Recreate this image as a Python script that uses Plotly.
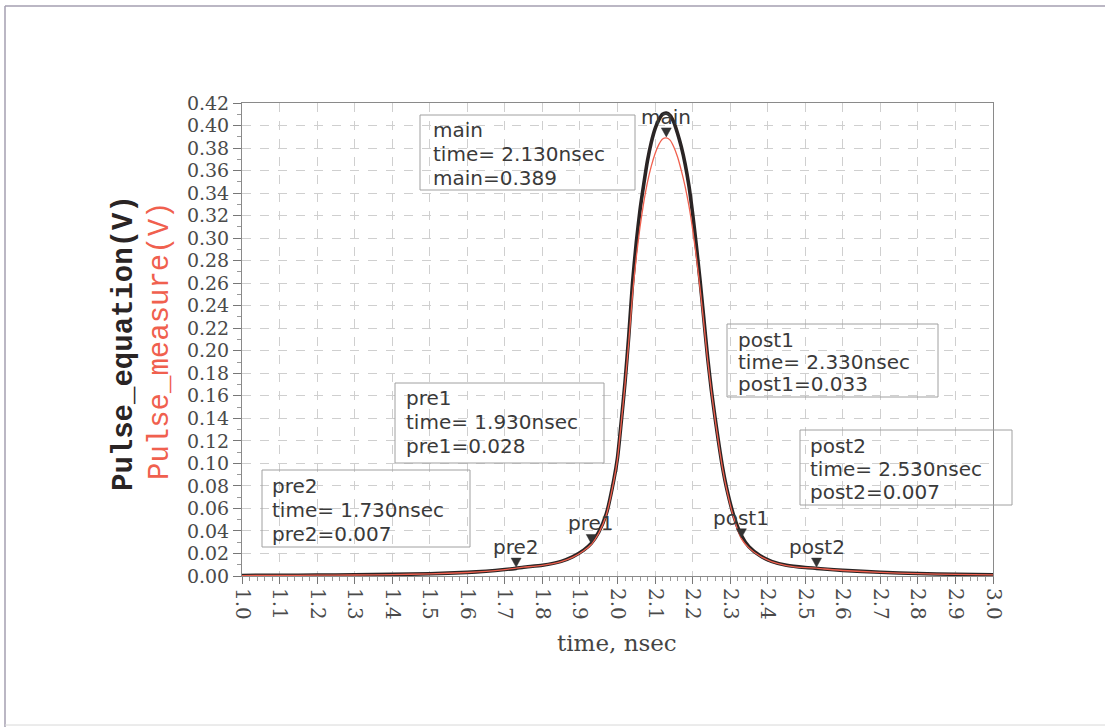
import plotly.graph_objects as go

# ---------------- data ----------------
time_ns = [1.00, 1.10, 1.20, 1.30, 1.40, 1.50, 1.60, 1.65, 1.70, 1.73, 1.75, 1.80, 1.85, 1.88,
           1.91, 1.93, 1.95, 1.97, 1.99, 2.00, 2.01, 2.02, 2.03, 2.04, 2.05, 2.06, 2.07, 2.08,
           2.09, 2.10, 2.11, 2.12, 2.13, 2.14, 2.15, 2.16, 2.17, 2.18, 2.19, 2.20, 2.21, 2.22,
           2.23, 2.24, 2.25, 2.26, 2.27, 2.28, 2.29, 2.31, 2.33, 2.35, 2.38, 2.41, 2.45, 2.50,
           2.53, 2.55, 2.60, 2.70, 2.80, 2.90, 3.00]

pulse_equation = [0.0005, 0.0006, 0.0008, 0.0010, 0.0014, 0.0020, 0.0032, 0.0042, 0.0057, 0.0068,
                  0.0078, 0.0095, 0.0130, 0.0170, 0.0230, 0.0290, 0.0390, 0.0550, 0.0850, 0.1050,
                  0.1370, 0.1720, 0.2130, 0.2600, 0.2960, 0.3250, 0.3480, 0.3690, 0.3850, 0.3970,
                  0.4050, 0.4100, 0.4110, 0.4090, 0.4030, 0.3930, 0.3810, 0.3660, 0.3470, 0.3220,
                  0.2930, 0.2620, 0.2280, 0.1940, 0.1650, 0.1400, 0.1170, 0.0960, 0.0790, 0.0530,
                  0.0360, 0.0260, 0.0180, 0.0130, 0.0095, 0.0075, 0.0068, 0.0062, 0.0050, 0.0033,
                  0.0022, 0.0015, 0.0011]

pulse_measure = [0.0004, 0.0005, 0.0007, 0.0009, 0.0013, 0.0019, 0.0031, 0.0041, 0.0057, 0.0070,
                 0.0078, 0.0095, 0.0128, 0.0165, 0.0225, 0.0280, 0.0380, 0.0540, 0.0840, 0.1040,
                 0.1360, 0.1700, 0.2080, 0.2500, 0.2830, 0.3100, 0.3320, 0.3500, 0.3640, 0.3750,
                 0.3830, 0.3880, 0.3890, 0.3870, 0.3810, 0.3720, 0.3600, 0.3460, 0.3290, 0.3080,
                 0.2830, 0.2550, 0.2240, 0.1920, 0.1640, 0.1390, 0.1160, 0.0950, 0.0780, 0.0510,
                 0.0330, 0.0250, 0.0175, 0.0128, 0.0093, 0.0074, 0.0070, 0.0062, 0.0049, 0.0032,
                 0.0021, 0.0014, 0.0010]

marker_names = ["pre2", "pre1", "main", "post1", "post2"]
marker_times = [1.73, 1.93, 2.13, 2.33, 2.53]
marker_values = [0.007, 0.028, 0.389, 0.033, 0.007]

x_ticks = [1.0, 1.1, 1.2, 1.3, 1.4, 1.5, 1.6, 1.7, 1.8, 1.9, 2.0,
           2.1, 2.2, 2.3, 2.4, 2.5, 2.6, 2.7, 2.8, 2.9, 3.0]
y_ticks = [i * 0.02 for i in range(22)]

# ---------------- layout helpers ----------------
W, H = 1105, 727
L, R, T, B = 242, 993, 103, 576
PW, PH = R - L, B - T


def px(xp):
    return (xp - L) / PW


def py(yp):
    return (B - yp) / PH


TEXT_COLOR = "#3a3a3a"
BOX_COLOR = "#a0a0a0"
RED = "#f0604e"
BLACK = "#2a2424"

fig = go.Figure()

fig.add_trace(go.Scatter(
    x=time_ns, y=pulse_equation, mode="lines", name="Pulse_equation",
    line=dict(color=BLACK, width=3.6, shape="spline", smoothing=0.6),
    showlegend=False, hoverinfo="skip"))

fig.add_trace(go.Scatter(
    x=time_ns, y=pulse_measure, mode="lines", name="Pulse_measure",
    line=dict(color=RED, width=1.3, shape="spline", smoothing=0.6),
    showlegend=False, hoverinfo="skip"))

annotations = []
shapes = []

# marker triangles (pixel-sized shapes anchored at the marker data point) and labels
for name, t, v in zip(marker_names, marker_times, marker_values):
    shapes.append(dict(type="path", xref="x", yref="y", xsizemode="pixel", ysizemode="pixel",
                       xanchor=t, yanchor=v, path="M-5,10 L5,10 L0,1 Z",
                       fillcolor="#333333", line=dict(color="#333333", width=0.5)))
    annotations.append(dict(x=t, y=v, xref="x", yref="y", text=name, showarrow=False,
                            font=dict(family="DejaVu Sans", size=20, color=TEXT_COLOR),
                            xanchor="center", yanchor="middle", yshift=21))

# readout boxes
box_specs = [
    # (x0, y0, x1, y1, text_left, line_ys)
    (420, 115, 635, 190, 431, [130, 154, 178]),
    (395, 383, 604, 463, 404, [398, 422, 446]),
    (262, 470, 470, 547, 270, [486, 510, 534]),
    (727, 324, 938, 397, 736, [340, 362, 384]),
    (800, 430, 1012, 505, 808, [446, 469, 492]),
]
box_order = ["main", "pre1", "pre2", "post1", "post2"]
for spec, name in zip(box_specs, box_order):
    x0, y0, x1, y1, tl, lys = spec
    i = marker_names.index(name)
    lines = [name, f"time= {marker_times[i]:.3f}nsec", f"{name}={marker_values[i]:.3f}"]
    shapes.append(dict(type="rect", xref="paper", yref="paper",
                       x0=px(x0), x1=px(x1), y0=py(y1), y1=py(y0),
                       line=dict(color=BOX_COLOR, width=1), fillcolor="rgba(0,0,0,0)"))
    for txt, ly in zip(lines, lys):
        annotations.append(dict(x=px(tl), y=py(ly), xref="paper", yref="paper", text=txt,
                                showarrow=False, xanchor="left", yanchor="middle",
                                font=dict(family="DejaVu Sans", size=20, color=TEXT_COLOR)))

# axis titles
annotations.append(dict(x=px(124), y=py(343), xref="paper", yref="paper",
                        text="<b>Pulse_equation(V)</b>", showarrow=False, textangle=-90,
                        xanchor="center", yanchor="middle",
                        font=dict(family="Liberation Mono", size=29, color=BLACK)))
annotations.append(dict(x=px(160), y=py(341), xref="paper", yref="paper",
                        text="Pulse_measure(V)", showarrow=False, textangle=-90,
                        xanchor="center", yanchor="middle",
                        font=dict(family="Liberation Mono", size=29, color=RED)))
annotations.append(dict(x=px(617), y=py(643), xref="paper", yref="paper",
                        text="time, nsec", showarrow=False,
                        xanchor="center", yanchor="middle",
                        font=dict(family="DejaVu Serif", size=23, color="#444444")))

# outer page border
border_col = "#a59fb0"
shapes.append(dict(type="line", xref="paper", yref="paper", x0=px(5), x1=px(5),
                   y0=py(6), y1=py(727), line=dict(color=border_col, width=1.5)))
shapes.append(dict(type="line", xref="paper", yref="paper", x0=px(5), x1=px(1105),
                   y0=py(6), y1=py(6), line=dict(color=border_col, width=1.5)))
shapes.append(dict(type="line", xref="paper", yref="paper", x0=px(5), x1=px(1105),
                   y0=py(725), y1=py(725), line=dict(color="#d8d8d8", width=1)))

fig.update_layout(
    width=W, height=H,
    margin=dict(l=L, r=W - R, t=T, b=H - B, pad=0),
    paper_bgcolor="white", plot_bgcolor="white",
    annotations=annotations, shapes=shapes,
    showlegend=False,
)

fig.update_xaxes(
    range=[1.0, 3.0], tickvals=x_ticks, ticktext=[f"{v:.1f}" for v in x_ticks],
    tickangle=90, ticks="outside", ticklen=7, tickcolor="#777777",
    tickfont=dict(family="DejaVu Serif", size=20, color="#4a4a4a"),
    showgrid=True, gridcolor="#cfcfcf", griddash="dash", gridwidth=1,
    showline=True, linecolor="#8a8a8a", linewidth=1, mirror=True,
    zeroline=False,
    minor=dict(dtick=0.02, ticks="outside", ticklen=4, tickcolor="#999999", showgrid=False),
)
fig.update_yaxes(
    range=[0, 0.42], tickvals=y_ticks, ticktext=[f"{v:.2f}" for v in y_ticks],
    ticks="outside", ticklen=8, tickcolor="#777777",
    tickfont=dict(family="DejaVu Serif", size=19, color="#4a4a4a"),
    showgrid=True, gridcolor="#cfcfcf", griddash="dash", gridwidth=1,
    showline=True, linecolor="#8a8a8a", linewidth=1, mirror=True,
    zeroline=False,
    minor=dict(dtick=0.01, ticks="outside", ticklen=4, tickcolor="#999999", showgrid=False),
)

fig.write_html("out.html")
